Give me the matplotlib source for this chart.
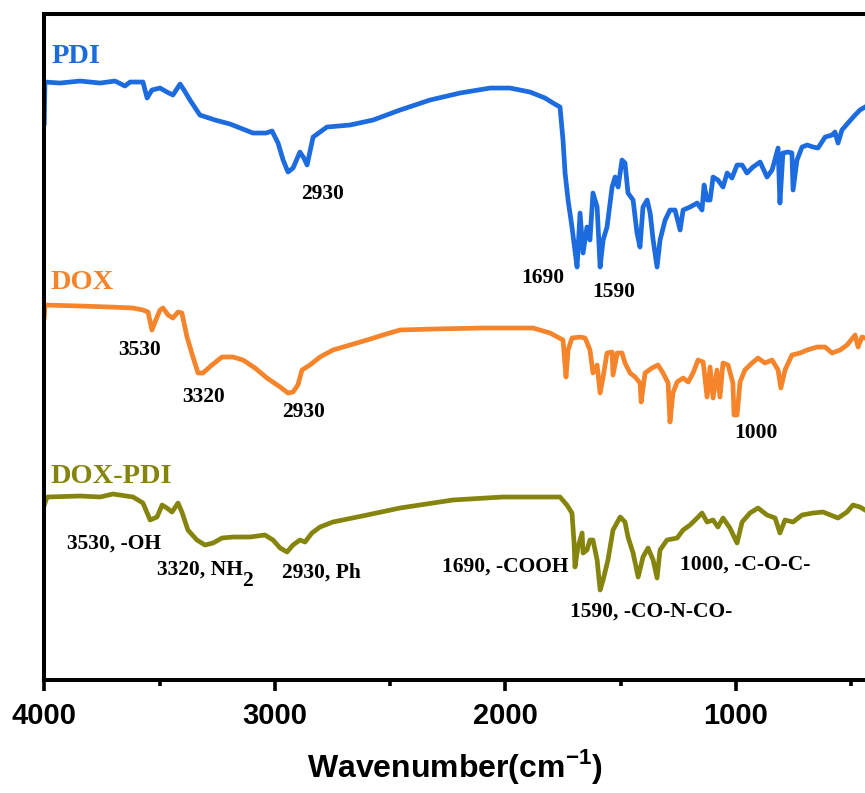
import matplotlib
matplotlib.use("Agg")
import matplotlib.pyplot as plt
from matplotlib.ticker import MultipleLocator

# FTIR spectra of PDI, DOX and the DOX-PDI conjugate, stacked (a.u.)
pdi_wn = [4000, 3997, 3932, 3845, 3758, 3693, 3650, 3628, 3572, 3554, 3533, 3498, 3468, 3442,
          3411, 3394, 3368, 3325, 3259, 3194, 3095, 3038, 3012, 2986, 2964, 2943, 2921, 2891,
          2874, 2860, 2834, 2774, 2674, 2574, 2457, 2327, 2197, 2066, 1980, 1893, 1828, 1793,
          1763, 1750, 1741, 1728, 1711, 1693, 1689, 1676, 1663, 1646, 1633, 1620, 1602, 1589,
          1576, 1559, 1537, 1524, 1511, 1494, 1481, 1468, 1446, 1429, 1416, 1403, 1385, 1372,
          1359, 1342, 1329, 1307, 1286, 1264, 1242, 1229, 1199, 1168, 1147, 1138, 1125, 1112,
          1099, 1078, 1056, 1038, 1017, 995, 973, 952, 926, 895, 865, 843, 817, 809, 796, 774,
          757, 752, 735, 713, 691, 665, 644, 613, 583, 570, 557, 540, 514, 483, 462, 440]
pdi_t = [557, 598, 597, 599, 597, 599, 594, 598, 598, 582, 590, 592, 588, 585,
         596, 590, 580, 565, 560, 556, 547, 547, 549, 537, 520, 508, 512, 528,
         522, 515, 543, 553, 555, 560, 570, 580, 587, 592, 592, 588, 582, 577,
         573, 540, 507, 480, 453, 420, 413, 467, 427, 453, 440, 487, 473, 413,
         440, 453, 493, 503, 493, 520, 517, 487, 480, 447, 433, 473, 480, 467,
         440, 413, 440, 460, 470, 470, 450, 470, 473, 477, 470, 495, 480, 480,
         503, 500, 493, 507, 502, 515, 515, 507, 513, 518, 503, 510, 532, 477, 527, 528,
         527, 490, 520, 533, 535, 533, 532, 543, 545, 548, 537, 550, 557, 565, 570, 573]

dox_wn = [4000, 3997, 3845, 3715, 3615, 3572, 3550, 3533, 3520, 3498, 3485, 3463, 3442, 3420,
          3403, 3381, 3355, 3333, 3312, 3273, 3229, 3181, 3138, 3086, 3034, 2977, 2943, 2921,
          2900, 2882, 2848, 2804, 2748, 2674, 2600, 2531, 2457, 2314, 2097, 1880, 1806, 1750,
          1737, 1728, 1711, 1676, 1654, 1633, 1620, 1602, 1589, 1576, 1559, 1537, 1533, 1515,
          1494, 1481, 1459, 1437, 1416, 1411, 1394, 1364, 1338, 1316, 1294, 1286, 1273, 1255,
          1229, 1207, 1186, 1164, 1142, 1125, 1112, 1099, 1082, 1069, 1056, 1034, 1013, 1008,
          995, 982, 961, 930, 904, 874, 843, 817, 805, 787, 757, 722, 691, 648, 613, 583, 548,
          518, 483, 470, 453, 440]
dox_t = [363, 375, 374, 373, 372, 370, 368, 350, 358, 370, 372, 365, 362, 368,
         367, 343, 323, 307, 307, 315, 323, 323, 320, 312, 302, 293, 287, 288,
         295, 310, 315, 323, 330, 335, 340, 345, 350, 351, 352, 352, 347, 340,
         303, 330, 342, 343, 342, 330, 307, 315, 287, 303, 327, 328, 305, 327,
         327, 317, 307, 303, 297, 278, 307, 312, 315, 307, 297, 258, 287, 298,
         302, 298, 307, 320, 318, 283, 313, 282, 310, 283, 317, 315, 297, 265,
         265, 298, 310, 317, 322, 317, 320, 310, 292, 310, 325, 327, 330, 333, 333, 327, 330,
         335, 345, 333, 343, 342]

doxpdi_wn = [4000, 3988, 3845, 3758, 3702, 3615, 3572, 3541, 3511, 3489, 3468, 3446, 3420, 3403,
             3377, 3338, 3303, 3268, 3229, 3181, 3108, 3043, 3008, 2977, 2947, 2921, 2891, 2869,
             2839, 2804, 2748, 2600, 2457, 2314, 2228, 2011, 1763, 1733, 1711, 1702, 1698, 1685,
             1667, 1663, 1646, 1633, 1620, 1602, 1589, 1576, 1555, 1533, 1502, 1481, 1468, 1446,
             1424, 1403, 1381, 1359, 1342, 1329, 1299, 1255, 1229, 1199, 1168, 1147, 1125, 1099,
             1078, 1056, 1026, 995, 973, 939, 904, 865, 830, 809, 787, 752, 713, 665, 622, 557,
             518, 492, 462, 440]
doxpdi_t = [175, 183, 184, 183, 186, 183, 177, 160, 163, 175, 172, 168, 177, 168,
            150, 140, 135, 137, 142, 143, 143, 145, 140, 132, 128, 135, 140, 138,
            147, 153, 158, 165, 172, 177, 180, 183, 183, 175, 167, 137, 113, 133,
            147, 127, 130, 140, 140, 120, 90, 100, 120, 150, 163, 158, 143, 127,
            103, 123, 132, 120, 102, 130, 140, 142, 150, 155, 162, 167, 158, 160,
            153, 162, 152, 137, 158, 167, 172, 165, 162, 147, 160, 158, 165, 167, 168, 162,
            168, 175, 173, 170]

names = ["PDI", "DOX", "DOX-PDI"]
colors = ["#1C6BDF", "#F5842A", "#85850E"]
name_pos = [(3968, 617), (3975, 391), (3975, 197)]

# peak annotations: (text, wavenumber, height)
peak_labels = [
    ("2930", 2795, 481), ("1690", 1837, 397), ("1590", 1529, 383),
    ("3530", 3587, 325), ("3320", 3307, 278), ("2930", 2876, 263), ("1000", 913, 242),
]
assign_labels = [
    ("3530, -OH", 3902, 131), ("3320, NH", 3511, 105), ("2930, Ph", 2970, 102),
    ("1690, -COOH", 2275, 108), ("1000, -C-O-C-", 1242, 110), ("1590, -CO-N-CO-", 1719, 63),
]

serif = ["Liberation Serif", "DejaVu Serif"]
sans = ["Liberation Sans", "DejaVu Sans"]
plt.rcParams["mathtext.fontset"] = "custom"
plt.rcParams["mathtext.sf"] = "Liberation Sans:bold"

fig = plt.figure(figsize=(8.65, 7.93), dpi=100)
ax = fig.add_axes([0.0512, 0.1425, 0.9488, 0.8398])

for wn, t, c in zip([pdi_wn, dox_wn, doxpdi_wn], [pdi_t, dox_t, doxpdi_t], colors):
    ax.plot(wn, t, color=c, lw=3.4, solid_joinstyle="round")

for n, c, (x, y) in zip(names, colors, name_pos):
    ax.text(x, y, n, color=c, fontsize=20.5, fontweight="bold", family=serif,
            ha="left", va="baseline")

for s, x, y in peak_labels:
    ax.text(x, y, s, fontsize=15.5, fontweight="bold", family=serif,
            ha="center", va="baseline")
for s, x, y in assign_labels:
    ax.text(x, y, s, fontsize=15.5, fontweight="bold", family=serif,
            ha="left", va="baseline")
# lowered subscript of NH2
ax.text(3140, 94, "2", fontsize=15.5, fontweight="bold", family=serif,
        ha="left", va="baseline")

ax.set_xlim(4000, 440)
ax.set_ylim(0, 666)
ax.set_yticks([])
ax.xaxis.set_major_locator(MultipleLocator(1000))
ax.xaxis.set_minor_locator(MultipleLocator(500))
ax.tick_params(axis="x", which="major", length=8, width=2.6, pad=8, labelsize=21)
ax.tick_params(axis="x", which="minor", length=4, width=2.6)
for lab in ax.get_xticklabels():
    lab.set_family(sans)
    lab.set_fontweight("bold")

for side in ["left", "bottom", "top"]:
    ax.spines[side].set_linewidth(2.9)
ax.spines["right"].set_visible(False)

ax.set_xlabel("Wavenumber(cm$^{\\mathsf{-1}}$)", fontsize=23, fontweight="bold",
              family=sans, labelpad=12)

fig.savefig("out.png", dpi=100)
